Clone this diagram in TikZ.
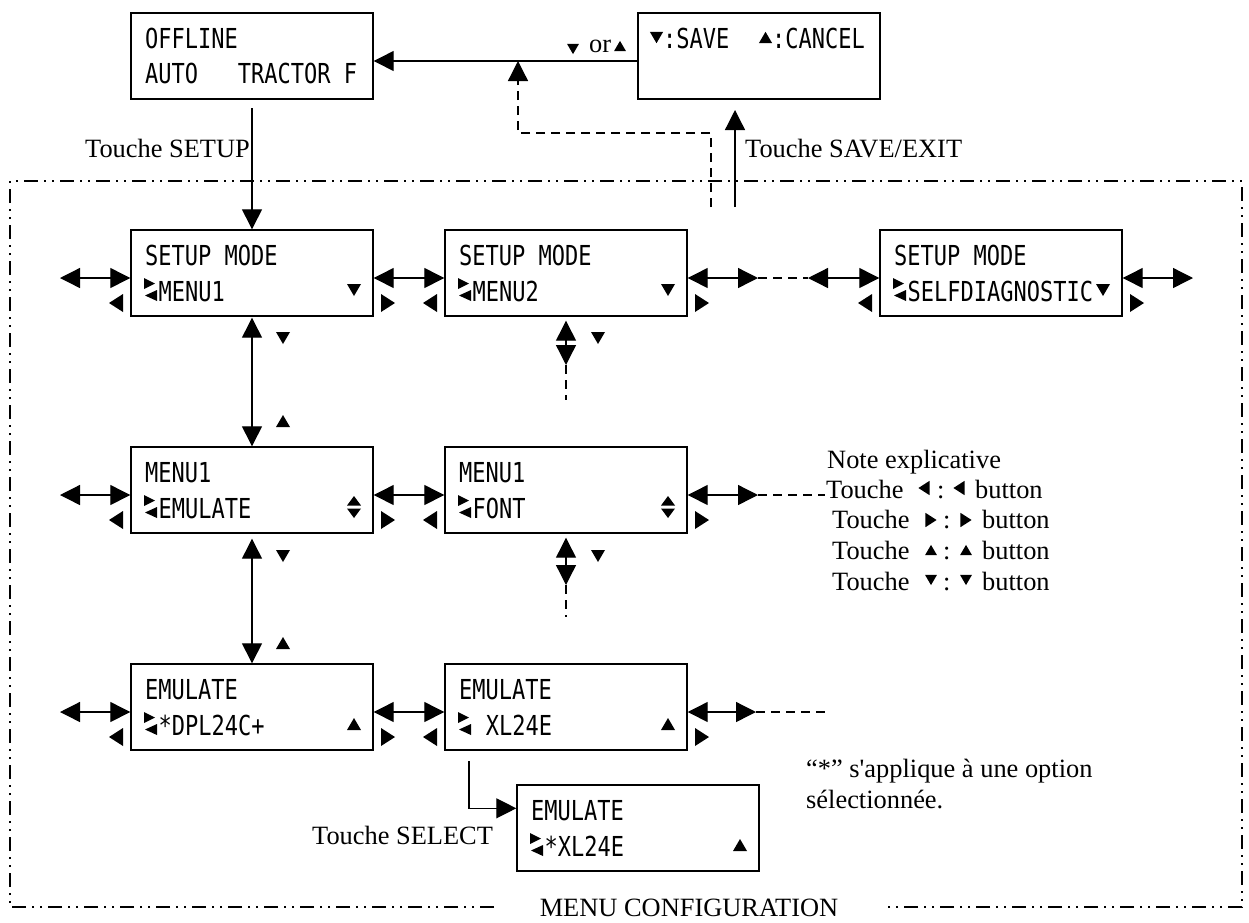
\documentclass[tikz,border=0pt]{standalone}
\usepackage{fontspec}
\setmainfont{Liberation Serif}
\newfontfamily\lcdfont[FakeStretch=0.80]{DejaVu Sans Mono}
\usetikzlibrary{arrows.meta,calc}

\newcommand\lcdscr[6]{%
  \node[lcdframe] (#1) at ({#2+121},{#3+43}) {};
  \node[lcdtxt] (#1-a) at ({#2+14},{#3+35}) {#4};
  \pic at ({#2+13},{#3+71}) {ptr};
  \node[lcdtxt] (#1-b) at ({#2+27.5},{#3+71}) {#5};
  \pic at ({#2+223},{#3+60}) {#6};
}
\newcommand\lcdbtns[2]{%
  \pic at ({#1-15},{#2+73}) {btnl};
  \pic at ({#1+257},{#2+73}) {btnr};
}

\begin{document}
\begin{tikzpicture}[x=1pt,y=-1pt,
  >={Triangle[length=20pt,width=20pt]},
  conn/.style={line width=1.3pt},
  dsh/.style={line width=1.3pt, dash pattern=on 9pt off 6pt},
  framestyle/.style={line width=1.2pt, dash pattern=on 14pt off 6pt on 2pt off 6pt on 2pt off 6pt},
  lcdframe/.style={draw, line width=1.4pt, minimum width=242pt, minimum height=86pt, inner sep=0pt},
  lcdtxt/.style={font=\lcdfont\fontsize{27.5}{27.5}\selectfont, anchor=base west, inner sep=0pt},
  lbl/.style={font=\fontsize{26.4}{30}\selectfont, anchor=base west, inner sep=0pt},
  ptr/.pic={\fill (0,-23)--(0,-12)--(11,-17.5)--cycle; \fill (13,-11)--(13,0)--(1,-5.5)--cycle;},
  tdn/.pic={\fill (-7,-6)--(7,-6)--(0,6)--cycle;},
  tup/.pic={\fill (-7,6)--(7,6)--(0,-6)--cycle;},
  tud/.pic={\fill (-7,-1.5)--(7,-1.5)--(0,-11)--cycle; \fill (-7,1.5)--(7,1.5)--(0,11)--cycle;},
  btnl/.pic={\fill (7,-9)--(7,9)--(-7,0)--cycle;},
  btnr/.pic={\fill (-7,-9)--(-7,9)--(7,0)--cycle;}
]
\useasboundingbox (0,0) rectangle (1249,922);

% frame
\draw[framestyle] (494,907) -- (10,907) -- (10,181) -- (1242,181) -- (1242,907) -- (884,907);
\node[lbl,anchor=base] (cfg) at (689,916) {MENU CONFIGURATION};

% top boxes
\node[lcdframe] (off) at (252,56) {};
\node[lcdtxt] (off-a) at (145,48) {OFFLINE};
\node[lcdtxt] (off-b) at (145,83) {AUTO\ \ \ TRACTOR F};

\node[lcdframe] (sav) at (759,56) {};
\pic[scale=0.95] at (656.5,37.5) {tdn};
\node[lcdtxt] (sav-a) at (663,48) {:SAVE};
\pic[scale=0.95] at (765.5,37.5) {tup};
\node[lcdtxt] (sav-b) at (772,48) {:CANCEL};

% screens
\lcdscr{s1}{131}{230}{SETUP MODE}{MENU1}{tdn}
\lcdscr{s2}{445}{230}{SETUP MODE}{MENU2}{tdn}
\lcdscr{s3}{880}{230}{SETUP MODE}{SELFDIAGNOSTIC}{tdn}
\lcdscr{m1}{131}{447}{MENU1}{EMULATE}{tud}
\lcdscr{m2}{445}{447}{MENU1}{FONT}{tud}
\lcdscr{e1}{131}{664}{EMULATE}{*DPL24C+}{tup}
\lcdscr{e2}{445}{664}{EMULATE}{\ XL24E}{tup}
\lcdscr{e3}{517}{785}{EMULATE}{*XL24E}{tup}
\lcdbtns{131}{230}
\lcdbtns{445}{230}
\lcdbtns{880}{230}
\lcdbtns{131}{447}
\lcdbtns{445}{447}
\lcdbtns{131}{664}
\lcdbtns{445}{664}

% free ends
\coordinate (setupStart) at (252,108);
\coordinate (saveStart) at (735,207);
\coordinate (saveTip) at (735,110);
\coordinate (retStart) at (711,207);
\coordinate (retTip) at (518,61);
\coordinate (s1L) at (60,278);
\coordinate (s2R) at (758,278);
\coordinate (s3Lc) at (808,278);
\coordinate (s3R) at (1193,278);
\coordinate (s2d) at (566,365);
\coordinate (s2dd) at (566,400);
\coordinate (m1L) at (60,495);
\coordinate (m2R) at (758,495);
\coordinate (m2RR) at (825,495);
\coordinate (m2d) at (566,585);
\coordinate (m2dd) at (566,617);
\coordinate (e1L) at (60,712);
\coordinate (e2R) at (756,712);
\coordinate (e2RR) at (830,712);
\coordinate (selStart) at (469,761);

% top connectors
\draw[conn,->] ($(sav.west)+(0,5)$) -- ($(off.east)+(0,5)$);
\draw[dsh,->] (retStart) -- ++(0,-74) -| (retTip);
\draw[conn,->] (saveStart) -- (saveTip);
\draw[conn,->] (setupStart) -- (s1.north);

% row 1
\draw[conn,<->] (s1L) -- ($(s1.west)+(0,5)$);
\draw[conn,<->] ($(s1.east)+(0,5)$) -- ($(s2.west)+(0,5)$);
\draw[conn,<->] ($(s2.east)+(0,5)$) -- (s2R);
\draw[dsh] (s2R) -- (s3Lc);
\draw[conn,<->] (s3Lc) -- ($(s3.west)+(0,5)$);
\draw[conn,<->] ($(s3.east)+(0,5)$) -- (s3R);
\draw[conn,<->] ($(s1.south)+(0,1)$) -- (m1.north);
\draw[conn,<->] ($(s2.south)+(0,4)$) -- (s2d);
\draw[dsh] (s2d) -- (s2dd);

% row 2
\draw[conn,<->] (m1L) -- ($(m1.west)+(0,5)$);
\draw[conn,<->] ($(m1.east)+(0,5)$) -- ($(m2.west)+(0,5)$);
\draw[conn,<->] ($(m2.east)+(0,5)$) -- (m2R);
\draw[dsh] (m2R) -- (m2RR);
\draw[conn,<->] ($(m1.south)+(0,5)$) -- (e1.north);
\draw[conn,<->] ($(m2.south)+(0,4)$) -- (m2d);
\draw[dsh] (m2d) -- (m2dd);

% row 3
\draw[conn,<->] (e1L) -- ($(e1.west)+(0,5)$);
\draw[conn,<->] ($(e1.east)+(0,5)$) -- ($(e2.west)+(0,5)$);
\draw[conn,<->] ($(e2.east)+(0,5)$) -- (e2R);
\draw[dsh] (e2R) -- (e2RR);
\draw[conn,->] (selStart) |- ($(e3.north west)+(0,24)$);

% key labels on vertical arrows
\pic at (283,338) {tdn};
\pic at (283,421) {tup};
\pic at (283,556) {tdn};
\pic at (283,643) {tup};
\pic at (598,338) {tdn};
\pic at (598,556) {tdn};

% text labels
\node[lbl] (tsetup) at (85,157) {Touche SETUP};
\node[lbl] (tsave) at (745,157) {Touche SAVE/EXIT};
\node[lbl] (tsel) at (312,844) {Touche SELECT};
\pic[scale=0.85] at (573,49) {tdn};
\node[lbl] (orl) at (589,52) {or};
\pic[scale=0.85] at (620,46) {tup};

% note
\node[lbl] (note) at (827,468) {Note explicative};
\node[lbl] (n1) at (826,498) {Touche};
\pic[scale=0.8] at (924,488) {btnl};
\node[lbl] (n1c) at (937,498) {:};
\pic[scale=0.8] at (959,488) {btnl};
\node[lbl] (n1b) at (975,498) {button};
\node[lbl] (n2) at (832,528) {Touche};
\pic[scale=0.8] at (931,520) {btnr};
\node[lbl] (n2c) at (943,528) {:};
\pic[scale=0.8] at (966,520) {btnr};
\node[lbl] (n2b) at (982,528) {button};
\node[lbl] (n3) at (832,559) {Touche};
\pic[scale=0.85] at (931,550) {tup};
\node[lbl] (n3c) at (943,559) {:};
\pic[scale=0.85] at (966,550) {tup};
\node[lbl] (n3b) at (982,559) {button};
\node[lbl] (n4) at (832,590) {Touche};
\pic[scale=0.85] at (931,580) {tdn};
\node[lbl] (n4c) at (943,590) {:};
\pic[scale=0.85] at (966,580) {tdn};
\node[lbl] (n4b) at (982,590) {button};

\node[lbl] (star1) at (806,777) {“*” s\textquotesingle applique à une option};
\node[lbl] (star2) at (806,808) {sélectionnée.};
\end{tikzpicture}
\end{document}
